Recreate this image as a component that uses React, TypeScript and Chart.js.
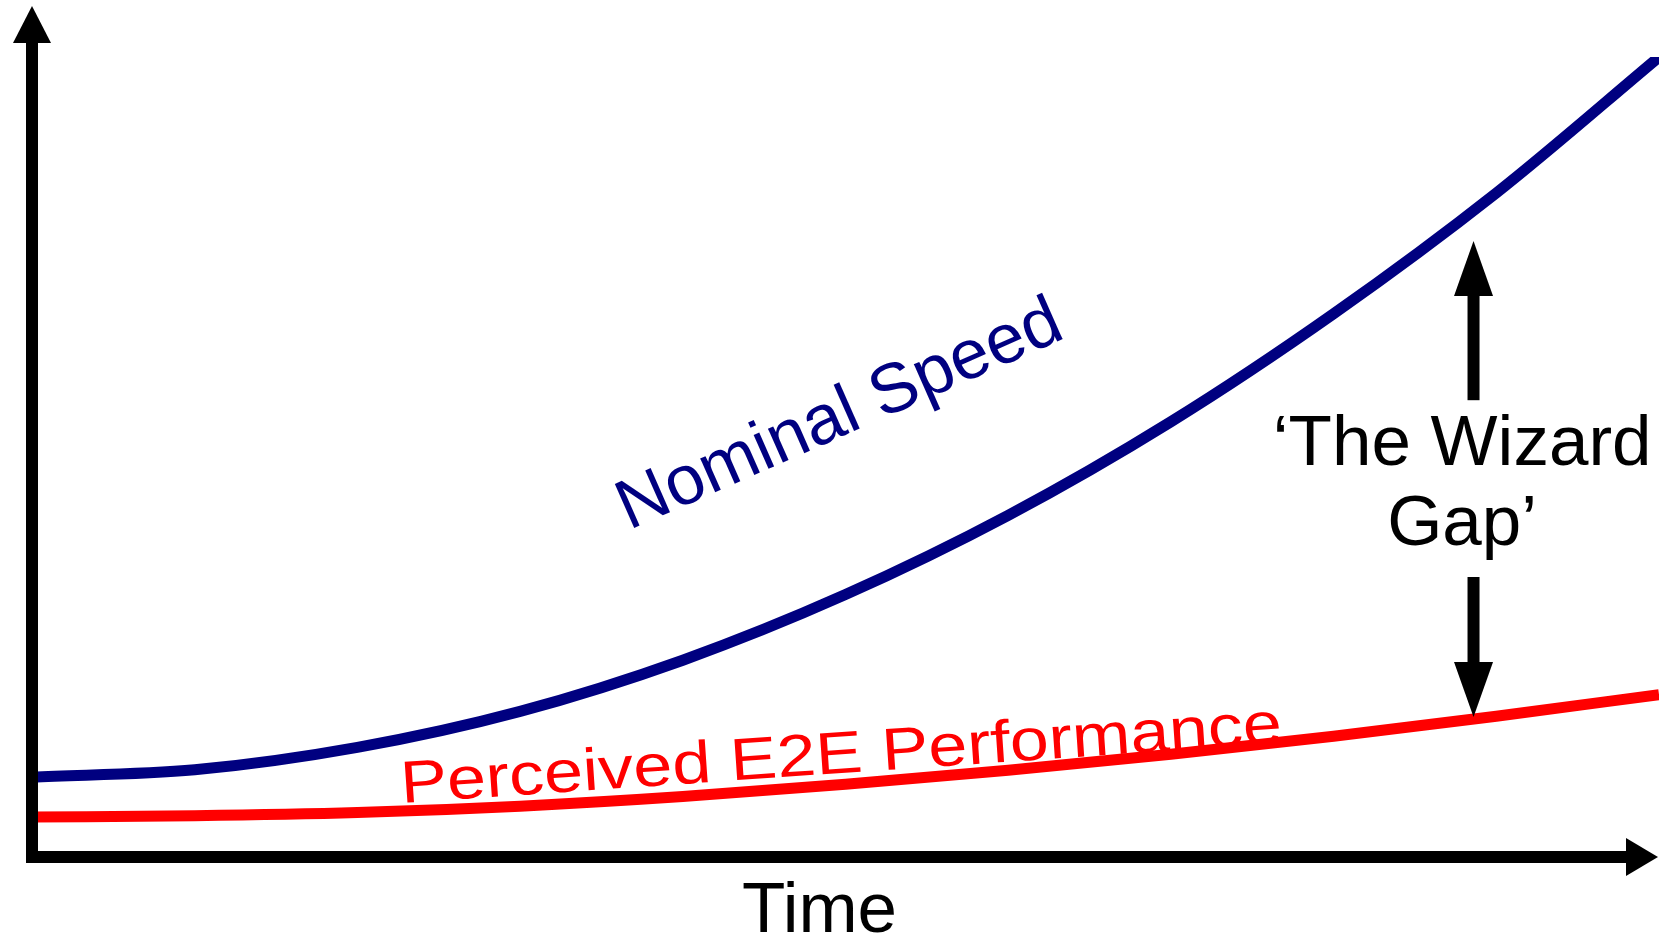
import React, { useEffect, useRef } from "react";
import { Chart, registerables } from "chart.js";

Chart.register(...registerables);

// ---- data ----
const timePoints = [0, 10, 20, 30, 40, 50, 60, 70, 80, 90, 100];
const nominalSpeed = [10, 10.9, 13.7, 18.2, 24.6, 32.8, 42.7, 54.4, 67.9, 83.0, 100];
const perceivedPerformance = [5, 5.15, 5.55, 6.35, 7.55, 9.1, 10.85, 12.85, 15.1, 17.6, 20.3];
const seriesLabels = ["Nominal Speed", "Perceived E2E Performance"];
const seriesColors = ["#000080", "#ff0000"];
const xAxisTitle = "Time";
const gapLabelLines = ["\u2018The Wizard", "Gap\u2019"];

// annotation anchors in data units (time, value)
const gapArrowTime = 88.6;
const gapArrowTop = 77;
const gapArrowUpperShaftEnd = 57.1;
const gapArrowLowerShaftStart = 35;
const gapArrowBottom = 17.5;
const nominalLabelPos = { t: 50.15, v: 52.9, angle: -23.8 };
const perceivedLabelPos = { t: 49.8, v: 10.5, angle: -3.9 };
const gapLabelPos = { t: 87.9, v: [49, 39] };
const timeLabelPos = { t: 48.4, v: -9.4 };

const FONT = '"Liberation Sans", Arial, sans-serif';

const overlayPlugin = {
  id: "overlay",
  afterDatasetsDraw(chart: any) {
    const { ctx, chartArea } = chart;
    const xs = chart.scales.x;
    const ys = chart.scales.y;
    const X = (t: number) => xs.getPixelForValue(t);
    const Y = (v: number) => ys.getPixelForValue(v);
    const ax = chartArea.left;
    const ay = chartArea.bottom;
    const th = 12;
    ctx.save();
    ctx.fillStyle = "#000";
    // y axis
    ctx.fillRect(ax - th / 2, 43, th, ay + th / 2 - 43);
    ctx.beginPath();
    ctx.moveTo(ax, 6);
    ctx.lineTo(ax - 19, 43);
    ctx.lineTo(ax + 19, 43);
    ctx.closePath();
    ctx.fill();
    // x axis
    const xEnd = chart.width - 1;
    ctx.fillRect(ax - th / 2, ay - th / 2, xEnd - 32 - (ax - th / 2), th);
    ctx.beginPath();
    ctx.moveTo(xEnd, ay);
    ctx.lineTo(xEnd - 32, ay - 19);
    ctx.lineTo(xEnd - 32, ay + 19);
    ctx.closePath();
    ctx.fill();

    // gap arrows
    const gx = X(gapArrowTime);
    const topTip = Y(gapArrowTop);
    const botTip = Y(gapArrowBottom);
    const headLen = 55;
    ctx.fillRect(gx - 6, topTip + headLen - 1, 12, Y(gapArrowUpperShaftEnd) - topTip - headLen + 1);
    ctx.beginPath();
    ctx.moveTo(gx, topTip);
    ctx.lineTo(gx - 19.5, topTip + headLen);
    ctx.lineTo(gx + 19.5, topTip + headLen);
    ctx.closePath();
    ctx.fill();
    const lowStart = Y(gapArrowLowerShaftStart);
    ctx.fillRect(gx - 6, lowStart, 12, botTip - headLen - lowStart + 1);
    ctx.beginPath();
    ctx.moveTo(gx, botTip);
    ctx.lineTo(gx - 19.5, botTip - headLen);
    ctx.lineTo(gx + 19.5, botTip - headLen);
    ctx.closePath();
    ctx.fill();

    // texts
    ctx.textAlign = "center";
    ctx.textBaseline = "alphabetic";
    ctx.font = `71px ${FONT}`;
    ctx.fillStyle = "#000";
    gapLabelLines.forEach((line, i) => {
      ctx.fillText(line, X(gapLabelPos.t), Y(gapLabelPos.v[i]));
    });
    ctx.font = `71px ${FONT}`;
    ctx.fillText(xAxisTitle, X(timeLabelPos.t), Y(timeLabelPos.v));

    ctx.save();
    ctx.translate(X(nominalLabelPos.t), Y(nominalLabelPos.v));
    ctx.rotate((nominalLabelPos.angle * Math.PI) / 180);
    ctx.font = `70px ${FONT}`;
    ctx.fillStyle = seriesColors[0];
    ctx.fillText(seriesLabels[0], 0, 0);
    ctx.restore();

    ctx.save();
    ctx.translate(X(perceivedLabelPos.t), Y(perceivedLabelPos.v));
    ctx.rotate((perceivedLabelPos.angle * Math.PI) / 180);
    ctx.scale(1, 0.85);
    ctx.font = `70px ${FONT}`;
    ctx.fillStyle = seriesColors[1];
    ctx.fillText(seriesLabels[1], 0, 0);
    ctx.restore();

    ctx.restore();
  },
};

export default function App() {
  const ref = useRef<HTMLCanvasElement | null>(null);
  useEffect(() => {
    if (!ref.current) return;
    const chart = new Chart(ref.current, {
      type: "line",
      data: {
        datasets: [
          {
            label: seriesLabels[0],
            data: timePoints.map((t, i) => ({ x: t, y: nominalSpeed[i] })),
            borderColor: seriesColors[0],
            borderWidth: 11,
            pointRadius: 0,
            cubicInterpolationMode: "monotone",
            fill: false,
          },
          {
            label: seriesLabels[1],
            data: timePoints.map((t, i) => ({ x: t, y: perceivedPerformance[i] })),
            borderColor: seriesColors[1],
            borderWidth: 11,
            pointRadius: 0,
            cubicInterpolationMode: "monotone",
            fill: false,
          },
        ],
      },
      options: {
        animation: false,
        responsive: false,
        devicePixelRatio: 1,
        layout: { padding: { left: 32, right: 0, top: 57, bottom: 80 } },
        scales: {
          x: { type: "linear", min: 0, max: 100, display: false },
          y: { type: "linear", min: 0, max: 100, display: false },
        },
        plugins: { legend: { display: false }, tooltip: { enabled: false } },
      },
      plugins: [overlayPlugin],
    } as any);
    return () => chart.destroy();
  }, []);
  return (
    <div style={{ position: "absolute", left: 0, top: 0, width: 1659, height: 937, background: "#fff" }}>
      <canvas ref={ref} width={1659} height={937} style={{ display: "block" }} />
    </div>
  );
}
